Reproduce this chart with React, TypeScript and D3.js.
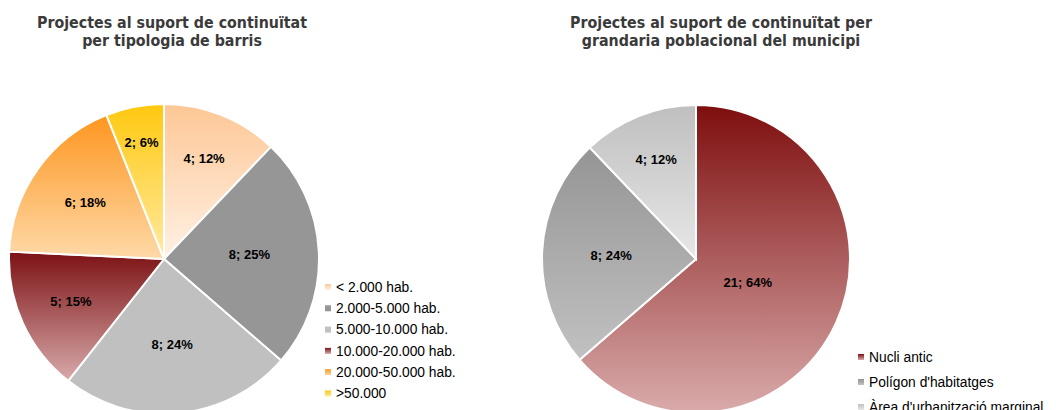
import React from 'react';
import * as d3 from 'd3';

// Left chart: tipologia de barris
const barriCategories = ['< 2.000 hab.', '2.000-5.000 hab.', '5.000-10.000 hab.', '10.000-20.000 hab.', '20.000-50.000 hab.', '>50.000'];
const barriValues = [4, 8, 8, 5, 6, 2];
const barriPercents = [12, 25, 24, 15, 18, 6];
const barriColors: [string, string][] = [
  ['#fdc795', '#fff1e4'],
  ['#969696', '#969696'],
  ['#c0c0c0', '#c0c0c0'],
  ['#7c1114', '#d8aaaa'],
  ['#fe961f', '#fed9a8'],
  ['#ffc80f', '#ffeaa2'],
];

// Right chart: grandaria poblacional
const municipiCategories = ['Nucli antic', "Polígon d'habitatges", "Àrea d'urbanització marginal"];
const municipiValues = [21, 8, 4];
const municipiPercents = [64, 24, 12];
const municipiColors: [string, string][] = [
  ['#7e0e0e', '#daabab'],
  ['#959595', '#c1c1c1'],
  ['#bfbfbf', '#e7e7e7'],
];

const W = 1056;
const H = 410;

interface PieProps {
  id: string;
  cx: number;
  cy: number;
  r: number;
  values: number[];
  percents: number[];
  colors: [string, string][];
}

const Pie: React.FC<PieProps> = ({ id, cx, cy, r, values, percents, colors }) => {
  const pie = d3.pie<number>().sort(null).value(d => d);
  const arcs = pie(values);
  const arc = d3.arc<d3.PieArcDatum<number>>().innerRadius(0).outerRadius(r);
  return (
    <g transform={`translate(${cx},${cy})`}>
      <defs>
        {colors.map((c, i) => (
          <linearGradient key={i} id={`${id}-g${i}`} x1="0" y1="0" x2="0" y2="1">
            <stop offset="0" stopColor={c[0]} />
            <stop offset="1" stopColor={c[1]} />
          </linearGradient>
        ))}
      </defs>
      {arcs.map((a, i) => (
        <path key={i} d={arc(a) || ''} fill={`url(#${id}-g${i})`} stroke="#fff" strokeWidth={2} />
      ))}
      {arcs.map((a, i) => {
        // narrow slices get their label further out, like Excel's best fit
        const deg = ((a.endAngle - a.startAngle) * 180) / Math.PI;
        const f = Math.max(0.37, Math.min(0.8, 0.84 - 0.0033 * deg));
        const mid = (a.startAngle + a.endAngle) / 2;
        const lr = r * f;
        return (
          <text
            key={i}
            x={Math.sin(mid) * lr}
            y={-Math.cos(mid) * lr}
            dy="0.35em"
            textAnchor="middle"
            fontFamily="'Liberation Sans', Arial, sans-serif"
            fontWeight="bold"
            fontSize={13}
            fill="#000"
          >
            {`${a.data}; ${percents[i]}%`}
          </text>
        );
      })}
    </g>
  );
};

interface LegendProps {
  id: string;
  x: number;
  y: number;
  step: number;
  labels: string[];
}

const Legend: React.FC<LegendProps> = ({ id, x, y, step, labels }) => (
  <g transform={`translate(${x},${y})`}>
    {labels.map((l, i) => (
      <g key={i} transform={`translate(0,${i * step})`}>
        <rect x={0} y={-3} width={6} height={6} fill={`url(#${id}-g${i})`} />
        <text x={11} dy="0.35em" fontFamily="'Liberation Sans', Arial, sans-serif" fontSize={13.8} fill="#000">
          {l}
        </text>
      </g>
    ))}
  </g>
);

const Title: React.FC<{ x: number; lines: string[] }> = ({ x, lines }) => (
  <g transform={`translate(${x},0) scale(0.95,1)`}>
    <text x={0} y={28} textAnchor="middle" fontFamily="'DejaVu Sans', Verdana, sans-serif" fontWeight="bold" fontSize={15} fill="#3a3a3a">
      {lines.map((l, i) => (
        <tspan key={i} x={0} dy={i === 0 ? 0 : 18.5}>
          {l}
        </tspan>
      ))}
    </text>
  </g>
);

const App: React.FC = () => {
  return (
    <div style={{ position: 'absolute', left: 0, top: 0 }}>
      <svg width={W} height={H} style={{ display: 'block', background: '#fff' }}>
        <rect width={W} height={H} fill="#fff" />
        <Title x={172} lines={['Projectes al suport de continuïtat', 'per tipologia de barris']} />
        <Title x={721} lines={['Projectes al suport de continuïtat per', 'grandaria poblacional del municipi']} />
        <Pie id="barri" cx={164} cy={259} r={155} values={barriValues} percents={barriPercents} colors={barriColors} />
        <Pie id="mun" cx={696} cy={259} r={154} values={municipiValues} percents={municipiPercents} colors={municipiColors} />
        <Legend id="barri" x={325} y={287} step={21.3} labels={barriCategories} />
        <Legend id="mun" x={858} y={357} step={25} labels={municipiCategories} />
      </svg>
    </div>
  );
};

export default App;
